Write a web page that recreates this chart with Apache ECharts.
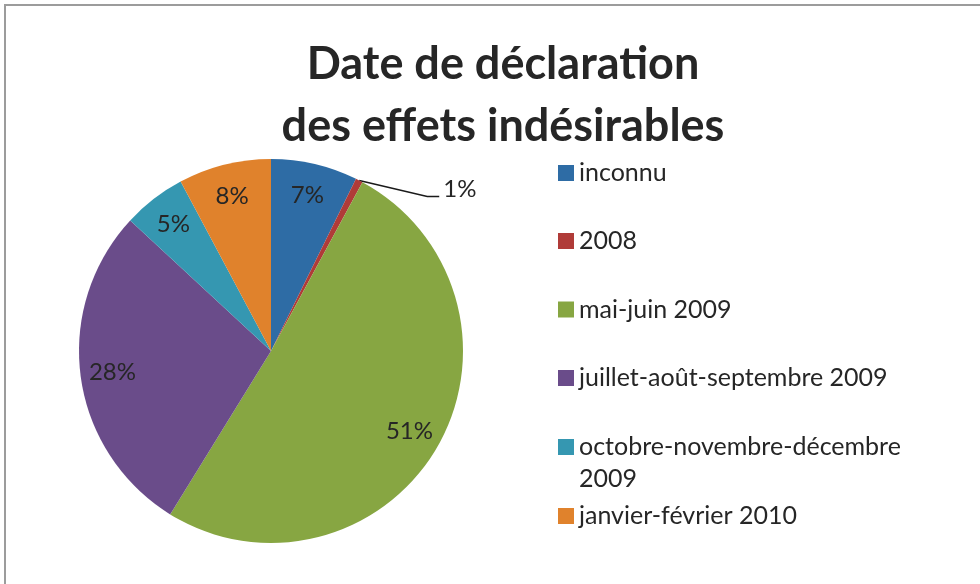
<!DOCTYPE html>
<html>
<head>
<meta charset="utf-8">
<script src="https://cdn.jsdelivr.net/npm/echarts@6/dist/echarts.min.js"></script>
<style>html,body{margin:0;padding:0;background:#fff}#c{width:980px;height:584px}</style>
</head>
<body>
<div id="c"></div>
<script>
const titleText = 'Date de déclaration\ndes effets indésirables';
const categories = ['inconnu', '2008', 'mai-juin 2009', 'juillet-août-septembre 2009', 'octobre-novembre-décembre 2009', 'janvier-février 2010'];
const legendLabels = ['inconnu', '2008', 'mai-juin 2009', 'juillet-août-septembre 2009', 'octobre-novembre-décembre\n2009', 'janvier-février 2010'];
const percentValues = [7.3, 0.6, 50.9, 28.1, 5.3, 7.8];
const colors = ['#2E6CA5', '#B03B38', '#87A642', '#6A4C8A', '#3597B1', '#E0822C'];

const FONT = 'Lato';
const TXT = '#262626';
const legendCenters = [173, 241, 309.5, 378, 447, 516];

const data = categories.map((n, i) => ({ name: n, value: percentValues[i], itemStyle: { color: colors[i] } }));

const legends = categories.map((n, i) => {
  const twoLine = legendLabels[i].indexOf('\n') >= 0;
  const lh = twoLine ? 32 : 28;
  return {
    data: [n],
    orient: 'vertical',
    left: 558,
    top: twoLine ? legendCenters[i] - 48 : legendCenters[i] - 14,
    padding: 0,
    itemWidth: 16,
    itemHeight: 16,
    icon: 'rect',
    selectedMode: false,
    formatter: () => (twoLine ? '\n' : '') + legendLabels[i],
    textStyle: { fontFamily: FONT, fontSize: 25, color: TXT, lineHeight: lh }
  };
});

const chart = echarts.init(document.getElementById('c'), null, { renderer: 'canvas' });
chart.setOption({
  animation: false,
  backgroundColor: '#fff',
  graphic: [{ type: 'rect', shape: { x: 5, y: 5, width: 1000, height: 620 }, style: { fill: 'none', stroke: '#9c9c9c', lineWidth: 2 }, silent: true, z: 100 }],
  title: {
    text: titleText,
    left: 503,
    textAlign: 'center',
    top: 33,
    padding: 0,
    textStyle: { fontFamily: FONT, fontWeight: 'bold', fontSize: 45, lineHeight: 62, color: TXT }
  },
  legend: legends,
  series: [
    {
      type: 'pie',
      center: [271, 351],
      radius: [0, 192],
      startAngle: 90,
      clockwise: true,
      silent: true,
      label: { show: false },
      labelLine: { show: false },
      itemStyle: { borderWidth: 0 },
      data: data
    },
    {
      type: 'pie',
      center: [271, 351],
      radius: [122, 192],
      startAngle: 90,
      clockwise: true,
      silent: true,
      avoidLabelOverlap: false,
      itemStyle: { color: 'rgba(0,0,0,0)', borderWidth: 0 },
      label: {
        show: true,
        position: 'inside',
        fontFamily: FONT,
        fontSize: 24,
        color: TXT,
        formatter: p => Math.round(p.value) + '%'
      },
      labelLine: { show: false },
      labelLayout: function (params) {
        if (params.dataIndex === 1 && params.labelLinePoints) {
          const s = params.labelLinePoints[0];
          return {
            x: s[0] + 84,
            y: s[1] + 9,
            align: 'left',
            verticalAlign: 'middle',
            labelLinePoints: [[s[0], s[1]], [s[0] + 68, s[1] + 16], [s[0] + 80, s[1] + 16]]
          };
        }
        return {};
      },
      data: categories.map((n, i) => i === 1 ? {
        name: n, value: percentValues[i],
        label: { position: 'outside' },
        labelLine: { show: true, length: 10, length2: 10, lineStyle: { color: '#1a1a1a', width: 1.5 } }
      } : { name: n, value: percentValues[i] })
    }
  ]
});
</script>
</body>
</html>
